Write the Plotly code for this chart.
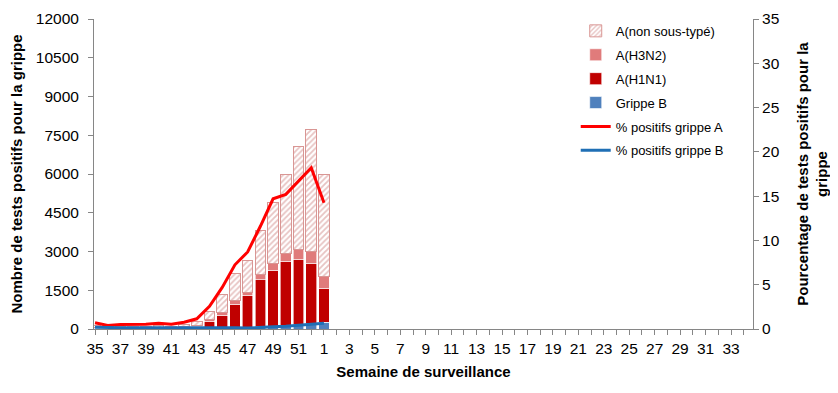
import plotly.graph_objects as go

weeks = [str(w) for w in range(35, 53)] + [str(w) for w in range(1, 35)]

# bar data (weeks 35..52, 1)
grippe_b = [30, 30, 30, 30, 30, 30, 30, 35, 40, 40, 40, 40, 50, 80, 100, 130, 160, 200, 260]
a_h1n1 = [10, 10, 10, 10, 10, 15, 20, 30, 70, 262, 495, 920, 1260, 1836, 2165, 2495, 2540, 2350, 1310]
a_h3n2 = [20, 15, 15, 20, 20, 20, 20, 25, 40, 65, 90, 130, 115, 180, 260, 300, 375, 440, 450]
a_non = [70, 35, 45, 40, 50, 55, 40, 80, 130, 297, 708, 1058, 1215, 1716, 2374, 3058, 3988, 4736, 3980]

# percentage lines
pct_a = [0.7, 0.4, 0.5, 0.5, 0.55, 0.66, 0.55, 0.77, 1.15, 2.57, 4.69, 7.25, 8.7, 11.6, 14.7, 15.2, 16.65, 18.2, 14.25]
pct_b = [0.2, 0.15, 0.15, 0.15, 0.15, 0.15, 0.15, 0.15, 0.2, 0.2, 0.2, 0.15, 0.1, 0.2, 0.25, 0.3, 0.4, 0.5, 0.65]

n = len(grippe_b)
xs = list(range(n))
xall = list(range(len(weeks)))
ticktext = [w if i % 2 == 0 else "" for i, w in enumerate(weeks)]

FONT = "Liberation Sans, Arial, sans-serif"
AX = "#868686"

fig = go.Figure()
fig.add_trace(go.Bar(x=xs, y=grippe_b, name="Grippe B", marker=dict(color="#4F81BD", line=dict(color="white", width=0.6)),
                     width=0.84, legendrank=4, legendgroup="g4"))
fig.add_trace(go.Bar(x=xs, y=a_h1n1, name="A(H1N1)", marker=dict(color="#C00000", line=dict(color="white", width=0.6)),
                     width=0.84, legendrank=3, legendgroup="g3"))
fig.add_trace(go.Bar(x=xs, y=a_h3n2, name="A(H3N2)", marker=dict(color="#E07B7B", line=dict(color="white", width=0.6)),
                     width=0.84, legendrank=2, legendgroup="g2"))
fig.add_trace(go.Bar(x=xs, y=a_non, name="A(non sous-typé)",
                     marker=dict(color="white", line=dict(color="#D99694", width=1),
                                 pattern=dict(shape="/", fgcolor="#D08886", bgcolor="white", size=4, solidity=0.45)),
                     width=0.84, legendrank=1, legendgroup="g1"))
fig.add_trace(go.Scatter(x=xs, y=pct_a, name="% positifs grippe A", mode="lines",
                         line=dict(color="#FF0000", width=3), yaxis="y2", legendrank=5, legendgroup="g5"))
fig.add_trace(go.Scatter(x=xs, y=pct_b, name="% positifs grippe B", mode="lines",
                         line=dict(color="#1F6FB5", width=3), yaxis="y2", legendrank=6, legendgroup="g6"))

fig.update_layout(
    width=838, height=393,
    margin=dict(l=86, r=93, t=11, b=72, autoexpand=False),
    barmode="stack",
    plot_bgcolor="white", paper_bgcolor="white",
    font=dict(family=FONT, size=15.5, color="black"),
    showlegend=True,
    legend=dict(x=0.731, y=1.01, xanchor="left", yanchor="top", font=dict(size=13),
                traceorder="grouped", tracegroupgap=4, bgcolor="rgba(0,0,0,0)"),
    xaxis=dict(range=[-0.08, 51.73], tickmode="array", tickvals=xall, ticktext=ticktext,
               showline=True, linecolor=AX, linewidth=1, ticks="outside", ticklen=5, tickcolor=AX,
               showgrid=False, zeroline=False, automargin=False,
               title=dict(text="<b>Semaine de surveillance</b>", font=dict(size=15), standoff=10)),
    yaxis=dict(range=[0, 12000], dtick=1500, tickformat="d", showline=True, linecolor=AX, linewidth=1,
               ticks="outside", ticklen=5, tickcolor=AX, showgrid=False, zeroline=False, automargin=False,
               ticklabelstandoff=6,
               title=dict(text="<b>Nombre de tests positifs pour la grippe</b>", font=dict(size=15), standoff=11)),
    yaxis2=dict(range=[0, 35], dtick=5, overlaying="y", side="right", showline=True, linecolor=AX, linewidth=1,
                ticks="outside", ticklen=5, tickcolor=AX, showgrid=False, zeroline=False, automargin=False,
                title=dict(text="<b>Pourcentage de tests positifs pour la<br>grippe</b>", font=dict(size=15), standoff=18)),
)

fig.write_html("out.html")
